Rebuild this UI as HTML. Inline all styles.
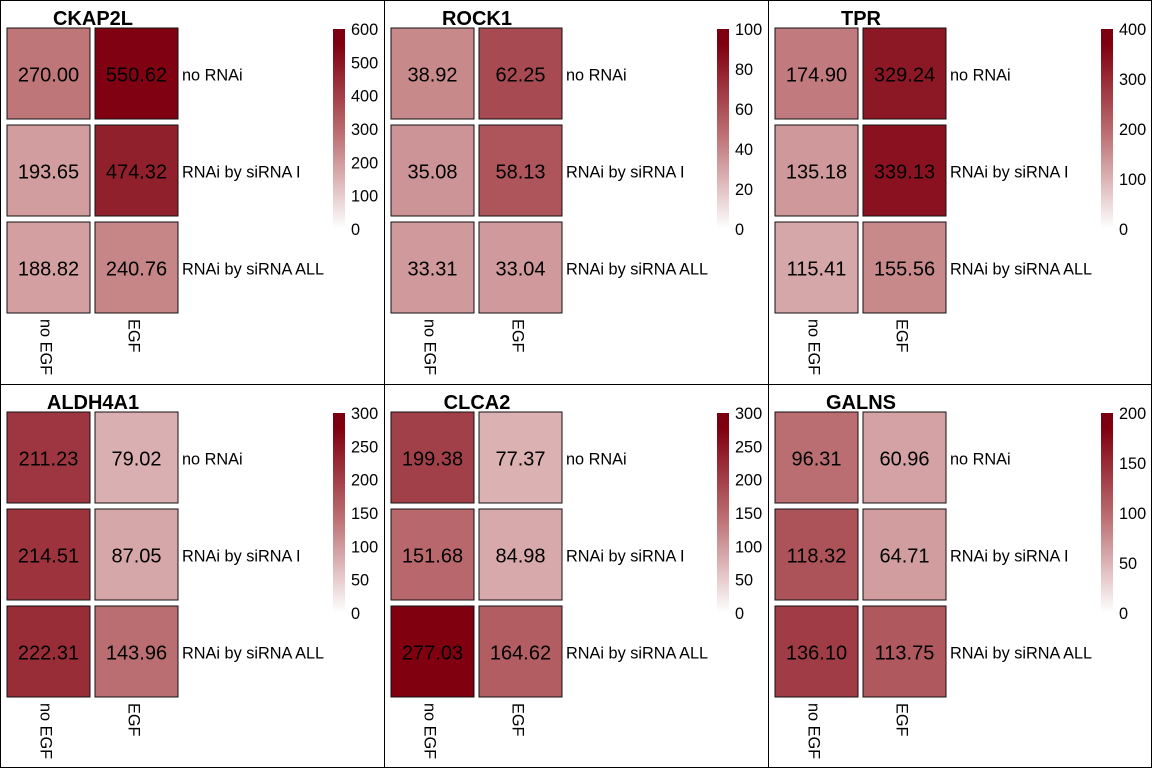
<!DOCTYPE html>
<html><head><meta charset="utf-8"><style>
body{margin:0;background:#fff;font-family:"Liberation Sans",Arial,sans-serif}
svg{display:block}
</style></head><body>
<svg id="chart" width="1152" height="768" viewBox="0 0 1152 768" xmlns="http://www.w3.org/2000/svg">
<defs>
<linearGradient id="grad" x1="0" y1="1" x2="0" y2="0">
<stop offset="0" stop-color="#ffffff"/>
<stop offset="0.46" stop-color="#be7376"/>
<stop offset="0.92" stop-color="#800010"/>
<stop offset="1" stop-color="#7a000f"/>
</linearGradient>
</defs>
</svg>
<script>
const genes=["CKAP2L","ROCK1","TPR","ALDH4A1","CLCA2","GALNS"];
const scaleMax=[600,100,400,300,300,200];
const scaleTicks=[[0,100,200,300,400,500,600],[0,20,40,60,80,100],[0,100,200,300,400],[0,50,100,150,200,250,300],[0,50,100,150,200,250,300],[0,50,100,150,200]];
const rowLabels=["no RNAi","RNAi by siRNA I","RNAi by siRNA ALL"];
const colLabels=["no EGF","EGF"];
const noEGF=[[270.00,193.65,188.82],[38.92,35.08,33.31],[174.90,135.18,115.41],[211.23,214.51,222.31],[199.38,151.68,277.03],[96.31,118.32,136.10]];
const EGF=[[550.62,474.32,240.76],[62.25,58.13,33.04],[329.24,339.13,155.56],[79.02,87.05,143.96],[77.37,84.98,164.62],[60.96,64.71,113.75]];
const NS="http://www.w3.org/2000/svg";
const svg=document.getElementById('chart');
function el(t,a,p){const e=document.createElementNS(NS,t);for(const k in a)e.setAttribute(k,a[k]);(p||svg).appendChild(e);return e;}
function lerp(a,b,t){return a.map((v,i)=>Math.round(v+(b[i]-v)*t));}
function color(v,max){let t=Math.max(0,Math.min(1,v/max/0.92));const w=[255,255,255],m=[190,115,118],d=[128,0,16];
 const c=t<0.5?lerp(w,m,t/0.5):lerp(m,d,(t-0.5)/0.5);return `rgb(${c})`;}
const cellX=[7,95],cellY=[28,125,222],cw=83,ch=91;
genes.forEach((g,p)=>{
 const ox=(p%3)*384,oy=Math.floor(p/3)*384;
 const grp=el('g',{transform:`translate(${ox},${oy})`});
 
 
 const t=el('text',{x:93,y:25,'text-anchor':'middle','font-size':20,'font-weight':'bold',fill:'#000'},grp);t.textContent=g;
 
 
 const cols=[noEGF[p],EGF[p]];
 cols.forEach((vals,ci)=>{vals.forEach((v,ri)=>{
  const r=el('rect',{x:cellX[ci],y:cellY[ri],width:cw,height:ch,fill:color(v,scaleMax[p]),stroke:'#111','stroke-width':1},grp);
  
  
  const tx=el('text',{x:cellX[ci]+cw/2,y:cellY[ri]+ch/2+8,'text-anchor':'middle','font-size':20,fill:'#000'},grp);tx.textContent=v.toFixed(2);
  
  
 });});
 rowLabels.forEach((l,ri)=>{const tx=el('text',{x:182,y:cellY[ri]+ch/2+7,'font-size':16.3,fill:'#000'},grp);tx.textContent=l;
  
  });
 colLabels.forEach((l,ci)=>{const cx=cellX[ci]+cw/2;const tx=el('text',{x:0,y:0,'font-size':16.3,fill:'#000',transform:`translate(${cx-8},319) rotate(90)`},grp);tx.textContent=l;
  
  });
 const cbTop=29,cbBot=229;
 const cb=el('rect',{x:333,y:cbTop,width:12,height:cbBot-cbTop,fill:'url(#grad)'},grp);
 
 
 scaleTicks[p].forEach(v=>{const y=cbBot-(v/scaleMax[p])*(cbBot-cbTop);
  const tx=el('text',{x:351,y:y+6,'font-size':16.3,fill:'#000'},grp);tx.textContent=v;
  
  });
});
[[0.5,0,0.5,768],[384.5,0,384.5,768],[768.5,0,768.5,768],[1151.5,0,1151.5,768],[0,0.5,1152,0.5],[0,384.5,1152,384.5],[0,767.5,1152,767.5]].forEach(l=>{
 const ln=el('line',{x1:l[0],y1:l[1],x2:l[2],y2:l[3],stroke:'#000','stroke-width':1});
 
 
});
</script>
</body></html>
